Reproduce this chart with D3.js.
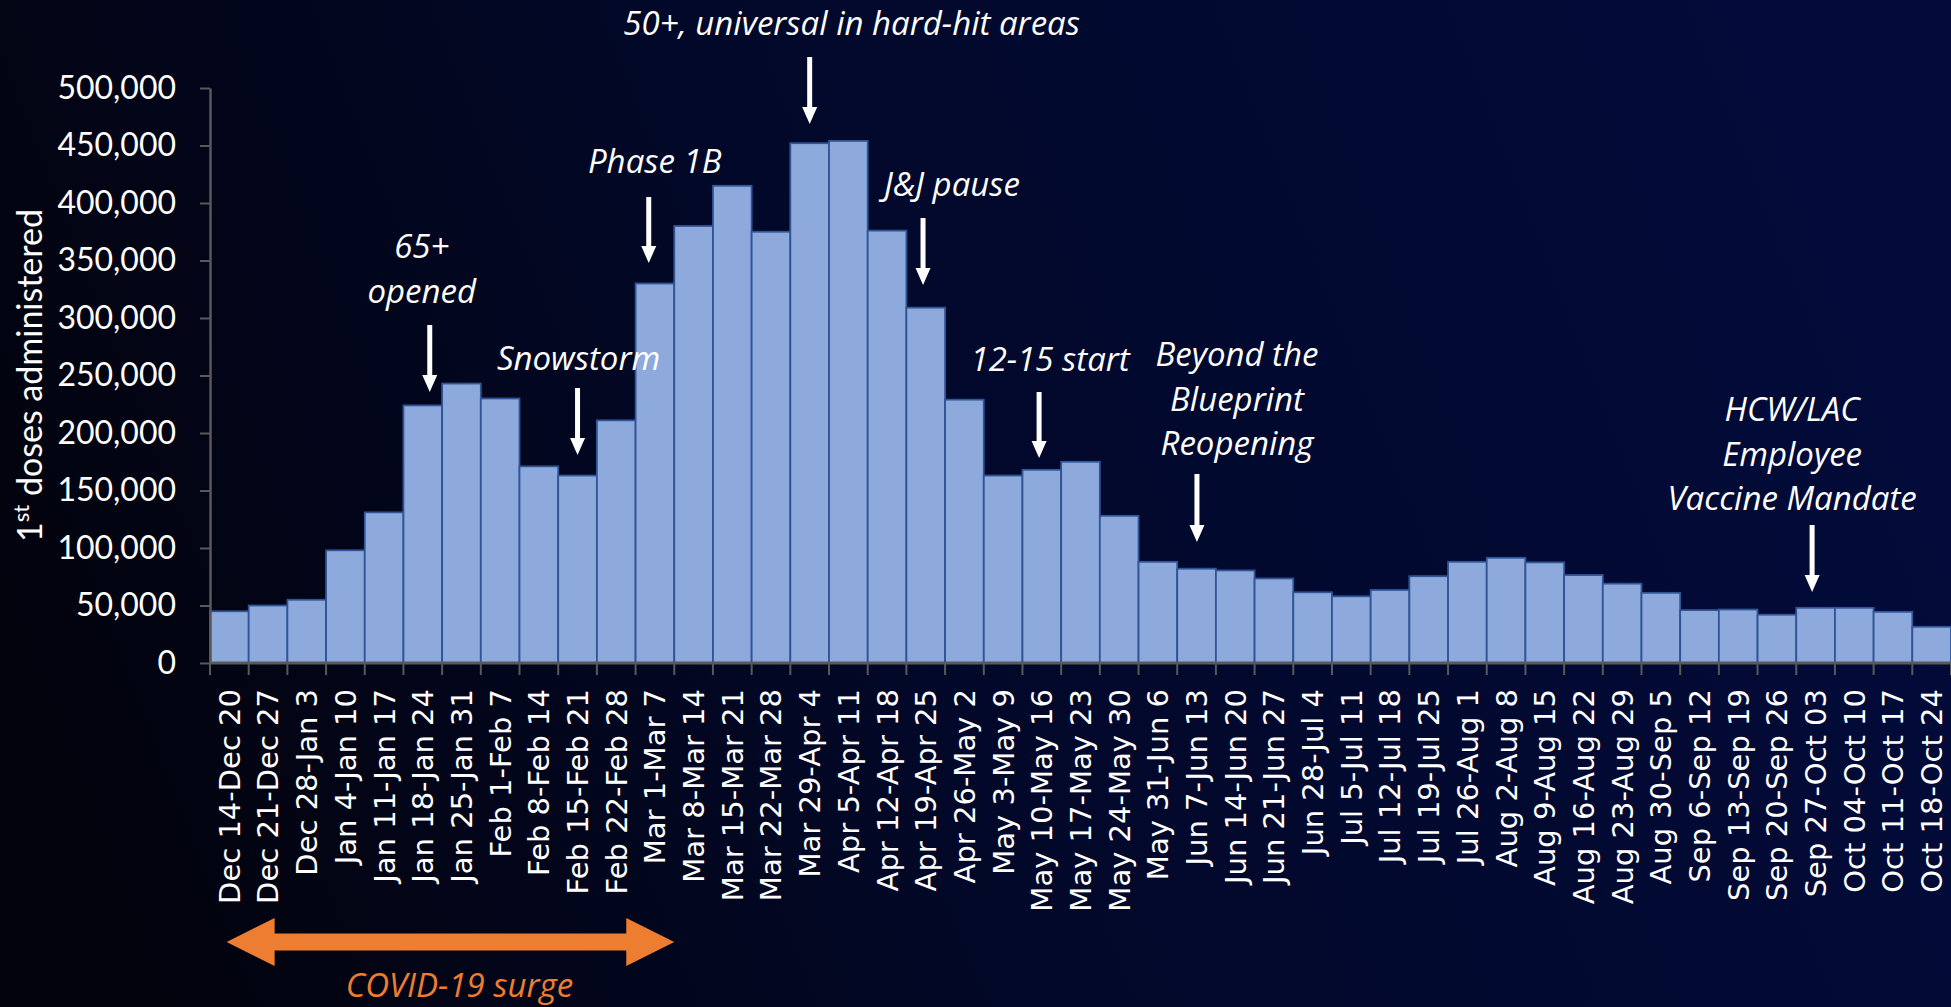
<!DOCTYPE html>
<html>
<head>
<meta charset="utf-8">
<script src="https://cdn.jsdelivr.net/npm/d3@7"></script>
<style>
  body { margin: 0; background: #02040f; }
  svg { display: block; }
</style>
</head>
<body>
<svg id="chart" width="1951" height="1007"></svg>
<script>
// weekly 1st doses administered
const weeks = [
  "Dec 14-Dec 20", "Dec 21-Dec 27", "Dec 28-Jan 3", "Jan 4-Jan 10", "Jan 11-Jan 17",
  "Jan 18-Jan 24", "Jan 25-Jan 31", "Feb 1-Feb 7", "Feb 8-Feb 14", "Feb 15-Feb 21",
  "Feb 22-Feb 28", "Mar 1-Mar 7", "Mar 8-Mar 14", "Mar 15-Mar 21", "Mar 22-Mar 28",
  "Mar 29-Apr 4", "Apr 5-Apr 11", "Apr 12-Apr 18", "Apr 19-Apr 25", "Apr 26-May 2",
  "May 3-May 9", "May 10-May 16", "May 17-May 23", "May 24-May 30", "May 31-Jun 6",
  "Jun 7-Jun 13", "Jun 14-Jun 20", "Jun 21-Jun 27", "Jun 28-Jul 4", "Jul 5-Jul 11",
  "Jul 12-Jul 18", "Jul 19-Jul 25", "Jul 26-Aug 1", "Aug 2-Aug 8", "Aug 9-Aug 15",
  "Aug 16-Aug 22", "Aug 23-Aug 29", "Aug 30-Sep 5", "Sep 6-Sep 12", "Sep 13-Sep 19",
  "Sep 20-Sep 26", "Sep 27-Oct 03", "Oct 04-Oct 10", "Oct 11-Oct 17", "Oct 18-Oct 24",
];
const firstDoses = [
  45000, 50000, 55000, 98000, 131000,
  224000, 243000, 230000, 171000, 163000,
  211000, 330000, 380000, 415000, 375000,
  452000, 454000, 376000, 309000, 229000,
  163000, 168000, 175000, 128000, 88000,
  82000, 80500, 73500, 61500, 58000,
  63500, 75500, 88000, 91500, 87500,
  76500, 69000, 61000, 46000, 46500,
  42000, 48000, 48000, 44500, 31500,
];
const yTicks = [0, 50000, 100000, 150000, 200000, 250000, 300000, 350000, 400000, 450000, 500000];

// policy milestones: which week the arrow points at, and the text lines
const milestoneWeeks = ["Mar 29-Apr 4", "Mar 1-Mar 7", "Jan 18-Jan 24", "Feb 15-Feb 21",
  "Apr 19-Apr 25", "May 10-May 16", "Jun 7-Jun 13", "Sep 27-Oct 03"];
const milestoneText = [
  ["50+, universal in hard-hit areas"],
  ["Phase 1B"],
  ["65+", "opened"],
  ["Snowstorm"],
  ["J&J pause"],
  ["12-15 start"],
  ["Beyond the", "Blueprint", "Reopening"],
  ["HCW/LAC", "Employee", "Vaccine Mandate"],
];
const surgeWeeks = ["Dec 14-Dec 20", "Mar 1-Mar 7"];

// layout for the annotations (offset in band, arrow top/tip, text offset and first baseline)
const milestoneLayout = [
  { dx: 0.5, top: 57, tip: 124, tx: 42, ty: 35 },
  { dx: 0.34, top: 197, tip: 263, tx: 6, ty: 173 },
  { dx: 0.68, top: 325, tip: 392, tx: -8, ty: 258 },
  { dx: 0.5, top: 388, tip: 455, tx: 1, ty: 370 },
  { dx: 0.43, top: 218, tip: 285, tx: 29, ty: 196 },
  { dx: 0.43, top: 392, tip: 458, tx: 11, ty: 371 },
  { dx: 0.51, top: 474, tip: 542, tx: 40, ty: 366 },
  { dx: 0.41, top: 525, tip: 592, tx: -20, ty: 421 },
];

const width = 1951, height = 1007;
const margin = { top: 88, right: 0, bottom: 344, left: 210 };
const svg = d3.select("#chart");

// background gradient, black on the left to navy on the right
const defs = svg.append("defs");
const grad = defs.append("linearGradient")
  .attr("id", "bg").attr("x1", "0%").attr("y1", "60%").attr("x2", "100%").attr("y2", "40%");
grad.append("stop").attr("offset", "0%").attr("stop-color", "#02030d");
grad.append("stop").attr("offset", "45%").attr("stop-color", "#020829");
grad.append("stop").attr("offset", "100%").attr("stop-color", "#020b3a");
svg.append("rect").attr("width", width).attr("height", height).attr("fill", "url(#bg)");

const x = d3.scaleBand().domain(weeks).range([margin.left, width - margin.right]).padding(0);
const y = d3.scaleLinear().domain([0, 500000]).range([height - margin.bottom, margin.top]);
const bw = x.bandwidth();

// bars
svg.append("g")
  .selectAll("rect")
  .data(weeks)
  .join("rect")
  .attr("x", (d) => x(d))
  .attr("y", (d, i) => y(firstDoses[i]))
  .attr("width", bw)
  .attr("height", (d, i) => y(0) - y(firstDoses[i]))
  .attr("fill", "#8eaadc")
  .attr("stroke", "#2f5597")
  .attr("stroke-width", 1.8);

// y axis
const yAxis = svg.append("g")
  .attr("transform", `translate(${margin.left},0)`)
  .call(d3.axisLeft(y).tickValues(yTicks).tickFormat(d3.format(",")).tickSize(10).tickSizeOuter(0).tickPadding(24));
yAxis.select(".domain").attr("stroke", "#595959").attr("stroke-width", 2.5);
yAxis.selectAll(".tick line").attr("stroke", "#595959").attr("stroke-width", 2);
yAxis.selectAll(".tick text")
  .attr("fill", "#ffffff")
  .style("font-family", "Lato, 'Open Sans', sans-serif")
  .style("font-size", "32px");

// x axis: labels on band centres, ticks on band edges
const xAxis = svg.append("g")
  .attr("transform", `translate(0,${y(0)})`)
  .call(d3.axisBottom(x).tickSize(0).tickPadding(0));
xAxis.select(".domain").remove();
xAxis.selectAll(".tick text")
  .attr("fill", "#ffffff")
  .attr("transform", "rotate(-90)")
  .attr("text-anchor", "end")
  .attr("x", -26)
  .attr("y", 0)
  .attr("dy", "0.36em")
  .style("font-family", "'DejaVu Sans', sans-serif")
  .style("font-size", "29px");

const edges = weeks.map((d) => x(d)).concat([x(weeks[weeks.length - 1]) + bw]);
svg.append("g")
  .selectAll("line")
  .data(edges)
  .join("line")
  .attr("x1", (d) => d).attr("x2", (d) => d)
  .attr("y1", y(0)).attr("y2", y(0) + 12)
  .attr("stroke", "#595959").attr("stroke-width", 2);
svg.append("line")
  .attr("x1", margin.left).attr("x2", width)
  .attr("y1", y(0)).attr("y2", y(0))
  .attr("stroke", "#595959").attr("stroke-width", 3);

// y axis title
const yTitle = svg.append("text")
  .attr("transform", `translate(42,${(y(0) + y(500000)) / 2}) rotate(-90)`)
  .attr("text-anchor", "middle")
  .attr("fill", "#ffffff")
  .style("font-family", "Lato, 'Open Sans', sans-serif")
  .style("font-size", "34px");
yTitle.append("tspan").text("1");
yTitle.append("tspan").text("st").attr("baseline-shift", "super").style("font-size", "22px");
yTitle.append("tspan").text(" doses administered");

// milestone annotations
const notes = svg.append("g");
milestoneWeeks.forEach((wk, i) => {
  const lay = milestoneLayout[i];
  const ax = x(wk) + bw * lay.dx;
  const g = notes.append("g");
  g.append("line")
    .attr("x1", ax).attr("x2", ax)
    .attr("y1", lay.top).attr("y2", lay.tip - 15)
    .attr("stroke", "#ffffff").attr("stroke-width", 5);
  g.append("path")
    .attr("d", `M${ax - 7.5},${lay.tip - 17} L${ax + 7.5},${lay.tip - 17} L${ax},${lay.tip} Z`)
    .attr("fill", "#ffffff");
  const t = g.append("text")
    .attr("text-anchor", "middle")
    .attr("fill", "#ffffff")
    .style("font-family", "'Open Sans', Lato, sans-serif")
    .style("font-style", "italic")
    .style("font-size", "33px");
  milestoneText[i].forEach((line, j) => {
    t.append("tspan").attr("x", ax + lay.tx).attr("y", lay.ty + j * 44.5).text(line);
  });
});

// COVID-19 surge double arrow
const sx0 = x(surgeWeeks[0]) + bw * 0.43;
const sx1 = x(surgeWeeks[1]) + bw;
const sy = 942;
const head = 48, headH = 24, shaft = 8.5;
svg.append("path")
  .attr("d", [
    `M${sx0},${sy}`,
    `L${sx0 + head},${sy - headH}`,
    `L${sx0 + head},${sy - shaft}`,
    `L${sx1 - head},${sy - shaft}`,
    `L${sx1 - head},${sy - headH}`,
    `L${sx1},${sy}`,
    `L${sx1 - head},${sy + headH}`,
    `L${sx1 - head},${sy + shaft}`,
    `L${sx0 + head},${sy + shaft}`,
    `L${sx0 + head},${sy + headH}`,
    "Z",
  ].join(" "))
  .attr("fill", "#ed7d31");
svg.append("text")
  .attr("x", (sx0 + sx1) / 2 + 9)
  .attr("y", 997)
  .attr("text-anchor", "middle")
  .attr("fill", "#ed7d31")
  .style("font-family", "'Open Sans', Lato, sans-serif")
  .style("font-style", "italic")
  .style("font-size", "33px")
  .text("COVID-19 surge");
</script>
</body>
</html>
